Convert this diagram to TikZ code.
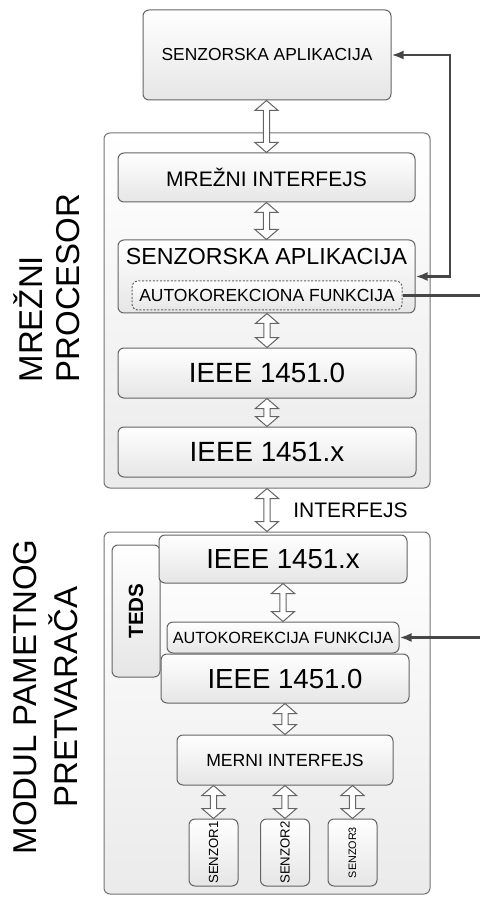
\documentclass[tikz,border=0pt]{standalone}
\usepackage{fontspec}
\setmainfont{Liberation Sans}
\usetikzlibrary{calc,arrows.meta}
\definecolor{boxline}{RGB}{100,100,100}
\definecolor{fbgray}{RGB}{70,70,70}
\newcommand{\fsz}[1]{\fontsize{#1}{#1}\selectfont}
\newcommand{\dblarr}[2]{%
  \draw[hollowarr] let \p1=(#1), \p2=(#2) in
    (\x2,\y1) -- (\x2+5.8pt,\y1-5pt) -- (\x2+1.6pt,\y1-5pt) -- (\x2+1.6pt,\y2+5pt)
    -- (\x2+5.8pt,\y2+5pt) -- (\x2,\y2) -- (\x2-5.8pt,\y2+5pt) -- (\x2-1.6pt,\y2+5pt)
    -- (\x2-1.6pt,\y1-5pt) -- (\x2-5.8pt,\y1-5pt) -- cycle;}

\begin{document}
\begin{tikzpicture}[x=0.5pt,y=-0.5pt,
  box/.style={draw=boxline, line width=0.5pt, rounded corners=3pt, top color=white, bottom color=black!10, inner sep=0pt, align=center},
  outer/.style={draw=boxline!90, line width=0.5pt, rounded corners=3pt, top color=white, bottom color=black!8, inner sep=0pt},
  sensor/.style={box, minimum width=24.5pt, minimum height=33.5pt},
  hollowarr/.style={draw=boxline, line width=0.5pt, fill=white, line join=miter},
  fbline/.style={draw=fbgray, line width=1.3pt, >={Latex[length=6pt,width=4.5pt]}}]

\useasboundingbox (0,0) rectangle (480,898);

\node[box, minimum width=124pt, minimum height=45pt, font=\fsz{8.7pt}] (topapp) at (267,55) {SENZORSKA APLIKACIJA};

\node[outer, minimum width=163pt, minimum height=177.5pt] (netproc) at (267,310.5) {};
\node[box, minimum width=148.5pt, minimum height=24.5pt, font=\fsz{10.5pt}] (netif) at (266.5,177.5) {MREŽNI INTERFEJS};
\node[box, minimum width=148.5pt, minimum height=36.5pt] (netapp) at (266.5,276.5) {};
\node[font=\fsz{11.6pt}] (netapptxt) at (266.5,257) {SENZORSKA APLIKACIJA};
\node[box, dash pattern=on 1pt off 0.8pt, minimum width=135pt, minimum height=14.5pt, font=\fsz{8.75pt}] (netcorr) at (267,295.5) {AUTOKOREKCIONA FUNKCIJA};
\node[box, minimum width=149pt, minimum height=25pt, font=\fsz{13.9pt}] (net0) at (267,373) {IEEE 1451.0};
\node[box, minimum width=149pt, minimum height=25pt, font=\fsz{13.9pt}] (netx) at (267,452) {IEEE 1451.x};

\node[outer, minimum width=163pt, minimum height=181pt] (modul) at (267,713) {};
\node[box, minimum width=24pt, minimum height=66pt, font=\fsz{10.3pt}\bfseries] (teds) at (136,611) {\rotatebox{90}{TEDS}};
\node[box, minimum width=124pt, minimum height=24pt, font=\fsz{13.8pt}] (modx) at (283,559) {IEEE 1451.x};
\node[box, minimum width=116pt, minimum height=15.5pt, font=\fsz{8.1pt}] (modcorr) at (283,637.5) {AUTOKOREKCIJA FUNKCIJA};
\node[box, minimum width=124pt, minimum height=24.5pt, font=\fsz{13.8pt}] (mod0) at (285,678.5) {IEEE 1451.0};
\node[box, minimum width=108pt, minimum height=25pt, font=\fsz{8.8pt}] (merni) at (285,760) {MERNI INTERFEJS};
\node[sensor, font=\fsz{6.6pt}] (sen1) at (213.5,852.5) {\rotatebox{90}{SENZOR1}};
\node[sensor, font=\fsz{6.6pt}] (sen2) at (285,852.5) {\rotatebox{90}{SENZOR2}};
\node[sensor, font=\fsz{5.4pt}] (sen3) at (352.5,852.5) {\rotatebox{90}{SENZOR3}};

\node[rotate=90, align=left, font=\fontsize{16.5pt}{18.5pt}\selectfont] (lblnp) at (47,288) {MREŽNI\\PROCESOR};
\node[rotate=90, align=center, font=\fontsize{16.5pt}{20.5pt}\selectfont] (lblmod) at (46,697) {MODUL PAMETNOG\\PRETVARAČA};
\node[anchor=west, inner sep=0pt, font=\fsz{10.5pt}] (iflbl) at (293,510) {INTERFEJS};

\dblarr{topapp.south}{netif.north}
\dblarr{netif.south}{netapp.north}
\dblarr{netapp.south}{net0.north}
\dblarr{net0.south}{netx.north}
\dblarr{netproc.south}{modul.north}
\dblarr{modx.south}{modcorr.north}
\dblarr{mod0.south}{merni.north}
\foreach \s in {sen1,sen2,sen3}
  \dblarr{merni.south}{\s.north};

\coordinate (fbturn) at (450,55);
\coordinate (fbout1) at (480,295.5);
\coordinate (fbout2) at (480,637.5);
\draw[fbline,<->] (topapp.east) -- (fbturn) |- (netapp.east);
\draw[fbline] (netcorr.east) -- (fbout1);
\draw[fbline,->] (fbout2) -- (modcorr.east);
\end{tikzpicture}
\end{document}
